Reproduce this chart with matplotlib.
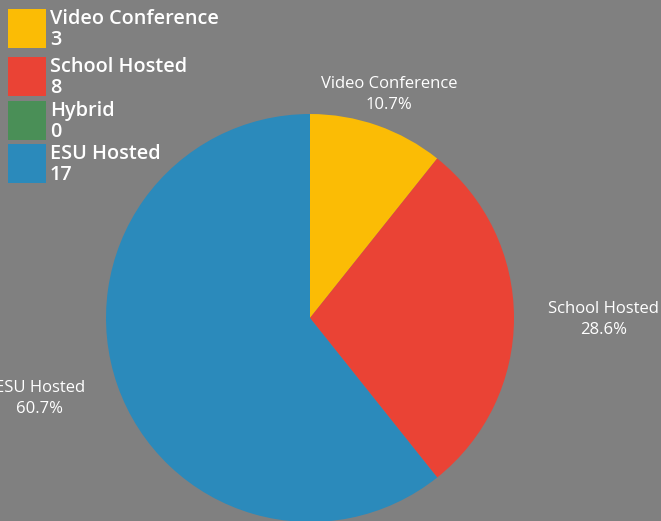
import matplotlib
matplotlib.use("Agg")
import matplotlib.pyplot as plt
from matplotlib.patches import Rectangle
import numpy as np

categories = ["Video Conference", "School Hosted", "Hybrid", "ESU Hosted"]
counts = [3, 8, 0, 17]
colors = ["#FBBC05", "#EA4335", "#4A8F57", "#2B8ABB"]

# label placement: radial distance (in radii) and horizontal nudge (px)
label_dist = [1.17, 1.44, None, 1.17]
label_nudge = [0, 0, 0, -45]

BG = "#808080"
W, H = 661, 521
fig = plt.figure(figsize=(W / 100, H / 100), dpi=100, facecolor=BG)
ax = fig.add_axes([0, 0, 1, 1])
ax.set_facecolor(BG)

cx, cy, r = 310, H - 318, 204
ax.pie(counts, colors=colors, startangle=90, counterclock=False,
       center=(cx, cy), radius=r, frame=True)
ax.set_xlim(0, W)
ax.set_ylim(0, H)
ax.set_aspect("auto")
ax.axis("off")

# slice labels
total = sum(counts)
start = 90.0
for name, v, d, nx in zip(categories, counts, label_dist, label_nudge):
    sweep = v / total * 360
    mid = np.deg2rad(start - sweep / 2)
    start -= sweep
    if v == 0:
        continue
    x = cx + d * r * np.cos(mid) + nx
    y = cy + d * r * np.sin(mid) - 1.5
    ax.text(x, y, f"{name}\n{v / total * 100:.1f}%", ha="center", va="center",
            color="white", fontsize=12, family="Open Sans", linespacing=1.4)

# legend
row_tops = [9, 57, 101, 144]
for name, v, c, t in zip(categories, counts, colors, row_tops):
    y0 = H - t
    ax.add_patch(Rectangle((8, y0 - 39), 38, 39, facecolor=c, edgecolor="none"))
    ax.text(50, y0 - 10, name, ha="left", va="center", color="white",
            fontsize=14.3, family="Open Sans", fontweight="semibold")
    ax.text(50, y0 - 31, str(v), ha="left", va="center", color="white",
            fontsize=14.3, family="Open Sans", fontweight="semibold")

fig.savefig("out.png", dpi=100, facecolor=BG)
